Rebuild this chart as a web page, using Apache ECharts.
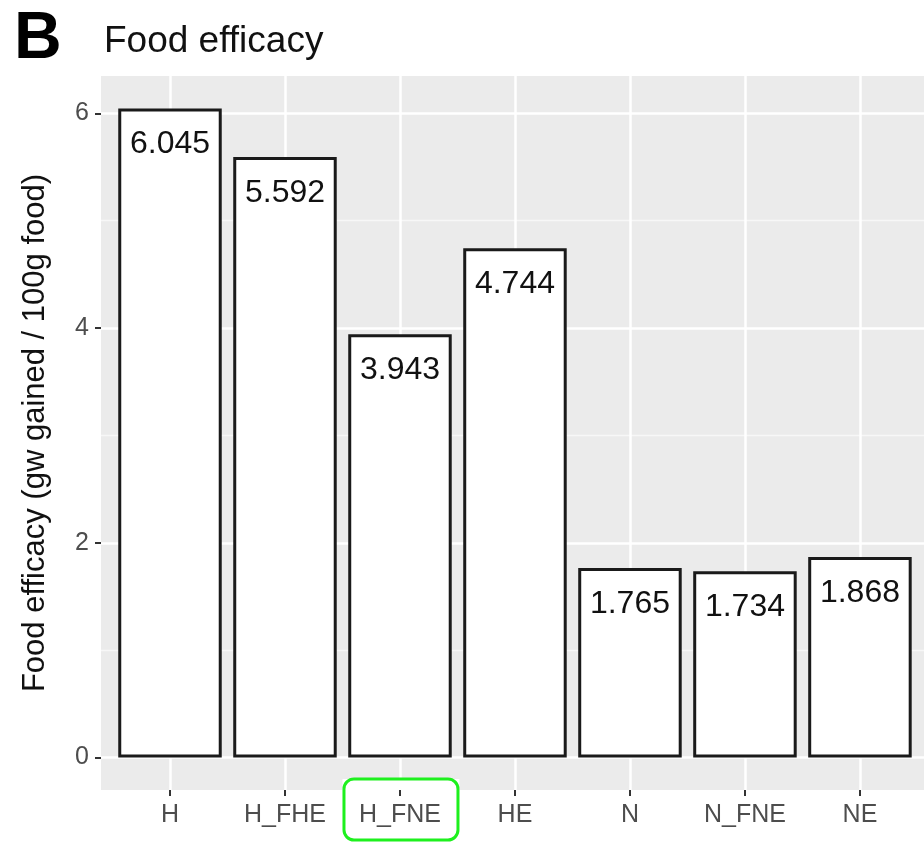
<!DOCTYPE html>
<html><head><meta charset="utf-8">
<script src="https://cdn.jsdelivr.net/npm/echarts@6/dist/echarts.min.js"></script>
<style>html,body{margin:0;padding:0;background:#fff}#c{width:924px;height:842px}</style>
</head><body><div id="c"></div>
<script>
const categories = ['H', 'H_FHE', 'H_FNE', 'HE', 'N', 'N_FNE', 'NE'];
const values = [6.045, 5.592, 3.943, 4.744, 1.765, 1.734, 1.868];
const yTicks = [0, 2, 4, 6];
const yMinorTicks = [1, 3, 5];
const highlighted = 'H_FNE';

const FONT = '"Liberation Sans", Arial, Helvetica, sans-serif';
const chart = echarts.init(document.getElementById('c'), null, {renderer: 'canvas'});
const xIdx = categories.map((_, i) => i);
const yMin = -0.302, yMax = 6.347;

chart.setOption({
  animation: false,
  backgroundColor: '#fff',
  title: [
    {text: 'B', left: 9, top: 2, textStyle: {fontFamily: FONT, fontSize: 66, fontWeight: 'bold', color: '#000'}},
    {text: 'Food efficacy', left: 99, top: 18, textStyle: {fontFamily: FONT, fontSize: 37, fontWeight: 'normal', color: '#111'}}
  ],
  grid: {left: 101, right: 0, top: 76, bottom: 52, show: true, backgroundColor: '#ebebeb', borderWidth: 0},
  xAxis: {
    type: 'value', min: -0.6, max: categories.length - 0.443,
    axisLine: {show: false, onZero: false},
    axisTick: {show: true, customValues: xIdx, length: 6, lineStyle: {color: '#333', width: 2}},
    axisLabel: {customValues: xIdx, formatter: v => categories[Math.round(v)], fontFamily: FONT, fontSize: 25, color: '#4d4d4d', margin: 13},
    splitLine: {show: true, lineStyle: {color: '#fff', width: 2.5}}
  },
  yAxis: [{
    type: 'value', min: yMin, max: yMax,
    name: 'Food efficacy (gw gained / 100g food)',
    nameLocation: 'middle', nameGap: 50,
    nameTextStyle: {fontFamily: FONT, fontSize: 31, color: '#111'},
    axisLine: {show: false, onZero: false},
    axisTick: {show: true, customValues: yTicks, length: 6, lineStyle: {color: '#333', width: 2}},
    axisLabel: {customValues: yTicks, fontFamily: FONT, fontSize: 25, color: '#4d4d4d', margin: 12},
    splitLine: {show: true, lineStyle: {color: '#fff', width: 2.5}}
  }, {
    type: 'value', min: yMin, max: yMax, position: 'right',
    axisLine: {show: false, onZero: false},
    axisTick: {show: false, customValues: yMinorTicks},
    axisLabel: {show: false, customValues: yMinorTicks},
    splitLine: {show: true, lineStyle: {color: '#f7f7f7', width: 1.3}}
  }],
  series: [{
    type: 'bar',
    yAxisIndex: 0,
    data: values.map((v, i) => [i, v]),
    barWidth: '90%',
    itemStyle: {color: '#fff', borderColor: '#1a1a1a', borderWidth: 3},
    label: {
      show: true, position: 'insideTop', distance: 20,
      formatter: p => values[p.dataIndex].toFixed(3),
      fontFamily: FONT, fontSize: 32, color: '#111'
    }
  }]
});

const hi = categories.indexOf(highlighted);
const x0 = chart.convertToPixel({xAxisIndex: 0}, hi - 0.5);
const x1 = chart.convertToPixel({xAxisIndex: 0}, hi + 0.5);
const yb = chart.convertToPixel({yAxisIndex: 0}, yMin);
chart.setOption({
  graphic: [
    {type: 'rect', z: 10, shape: {x: x0, y: yb - 11, width: x1 - x0 + 2, height: 11}, style: {fill: '#fff', stroke: null}},
    {type: 'rect', z: 11, shape: {x: x0 + 1.5, y: yb - 11, width: x1 - x0 - 1, height: 61, r: 10}, style: {fill: null, stroke: '#1ef01e', lineWidth: 3}}
  ]
});
</script></body></html>
